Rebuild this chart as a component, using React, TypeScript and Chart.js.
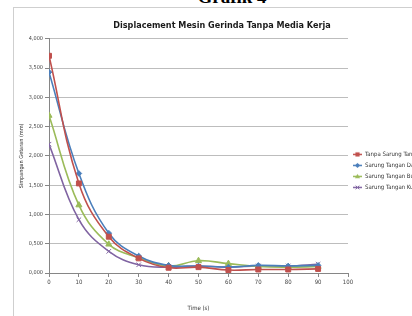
import React, { useEffect, useRef } from "react";
import { Chart, registerables } from "chart.js";
Chart.register(...registerables);

const timeS = [0, 10, 20, 30, 40, 50, 60, 70, 80, 90];
const tanpaSarung = [3.71, 1.53, 0.62, 0.25, 0.09, 0.1, 0.05, 0.06, 0.06, 0.07];
const sarungDacron = [3.43, 1.7, 0.68, 0.29, 0.13, 0.12, 0.1, 0.13, 0.12, 0.13];
const sarungBusa = [2.69, 1.16, 0.49, 0.26, 0.12, 0.21, 0.16, 0.11, 0.1, 0.11];
const sarungKulit = [2.2, 0.91, 0.37, 0.14, 0.1, 0.12, 0.1, 0.12, 0.12, 0.15];
const seriesNames = ["Tanpa Sarung Tangan", "Sarung Tangan Dacron", "Sarung Tangan Busa", "Sarung Tangan Kulit"];
const seriesValues = [tanpaSarung, sarungDacron, sarungBusa, sarungKulit];
const seriesColors = ["#C0504D", "#4A7EBB", "#9BBB59", "#8064A2"];
const seriesMarkers = ["rect", "rectRot", "triangle", "crossRot"];
const markerRadius = [3.5, 2.8, 3.5, 3.2];

const chartTitle = "Displacement Mesin Gerinda Tanpa Media Kerja";
const xTitle = "Time (s)";
const yTitle = "Simpangan Getaran (mm)";

const FONT = '"Liberation Sans Narrow", "DejaVu Sans Condensed", "Liberation Sans", sans-serif';

function drawMarker(ctx: CanvasRenderingContext2D, style: string, x: number, y: number, r: number, color: string) {
  ctx.fillStyle = color;
  ctx.strokeStyle = color;
  ctx.lineWidth = 1;
  ctx.beginPath();
  if (style === "rect") {
    ctx.rect(x - r * 0.8, y - r * 0.8, r * 1.6, r * 1.6);
    ctx.fill();
  } else if (style === "rectRot") {
    ctx.moveTo(x, y - r);
    ctx.lineTo(x + r, y);
    ctx.lineTo(x, y + r);
    ctx.lineTo(x - r, y);
    ctx.closePath();
    ctx.fill();
  } else if (style === "triangle") {
    ctx.moveTo(x, y - r);
    ctx.lineTo(x + r, y + r * 0.7);
    ctx.lineTo(x - r, y + r * 0.7);
    ctx.closePath();
    ctx.fill();
  } else {
    ctx.moveTo(x - r * 0.7, y - r * 0.7);
    ctx.lineTo(x + r * 0.7, y + r * 0.7);
    ctx.moveTo(x + r * 0.7, y - r * 0.7);
    ctx.lineTo(x - r * 0.7, y + r * 0.7);
    ctx.stroke();
  }
}

function legendImage(i: number) {
  const c = document.createElement("canvas");
  c.width = 9;
  c.height = 7;
  const ctx = c.getContext("2d")!;
  ctx.strokeStyle = seriesColors[i];
  ctx.lineWidth = 1.5;
  ctx.beginPath();
  ctx.moveTo(0, 3.5);
  ctx.lineTo(9, 3.5);
  ctx.stroke();
  drawMarker(ctx, seriesMarkers[i], 4.5, 3.5, 2.6, seriesColors[i]);
  return c;
}

const W = 430;

export default function App() {
  const ref = useRef<HTMLCanvasElement>(null);
  useEffect(() => {
    if (!ref.current) return;
    const chart = new Chart(ref.current, {
      type: "line",
      data: {
        datasets: seriesValues.map((vals, i) => ({
          label: seriesNames[i],
          data: timeS.map((t, j) => ({ x: t, y: vals[j] })),
          borderColor: seriesColors[i],
          backgroundColor: seriesColors[i],
          borderWidth: 1.6,
          pointStyle: seriesMarkers[i] as any,
          pointRadius: markerRadius[i],
          pointBorderWidth: 1,
          tension: 0.4,
          fill: false,
        })),
      },
      options: {
        animation: false,
        responsive: false,
        maintainAspectRatio: false,
        layout: { padding: { left: 14, top: 7, right: 0, bottom: 0 } },
        plugins: {
          title: {
            display: true,
            text: chartTitle,
            color: "#1a1a1a",
            font: { family: FONT, size: 9, weight: "bold", lineHeight: 1.2 },
            padding: { top: 13, bottom: 8 },
          },
          legend: {
            position: "right",
            align: "center",
            fullSize: false,
            maxWidth: W - 348,
            title: { display: true, text: " ", padding: 0, font: { size: 25, lineHeight: 1.2 } },
            labels: {
              usePointStyle: true,
              pointStyleWidth: 9,
              padding: 5,
              color: "#333",
              font: { family: FONT, size: 6 },
              generateLabels: (ch: any) => {
                const base = Chart.defaults.plugins.legend.labels.generateLabels(ch);
                return base.map((it: any, i: number) => ({ ...it, pointStyle: legendImage(i) }));
              },
            },
          },
          tooltip: { enabled: false },
        },
        scales: {
          x: {
            type: "linear",
            min: 0,
            max: 100,
            ticks: { stepSize: 10, color: "#444", font: { family: FONT, size: 6 }, padding: 2, maxRotation: 0 },
            grid: { drawOnChartArea: false, drawTicks: true, tickLength: 4, color: "#868686" },
            border: { color: "#868686" },
            title: { display: true, text: xTitle, color: "#333", font: { family: FONT, size: 6 }, padding: { top: 0, bottom: 4 } },
            afterFit: (s: any) => { s.height = 43; },
          },
          y: {
            type: "linear",
            min: 0,
            max: 4,
            ticks: {
              stepSize: 0.5,
              color: "#444",
              font: { family: FONT, size: 5.5 },
              padding: 2,
              callback: (v: any) => Number(v).toFixed(3).replace(".", ","),
            },
            grid: { color: "#bdbdbd", tickLength: 4, tickColor: "#868686" },
            border: { color: "#868686" },
            title: { display: true, text: yTitle, color: "#333", font: { family: FONT, size: 5.5 }, padding: { top: 4, bottom: 0 } },
            afterFit: (s: any) => { s.width = 35; },
          },
        },
      },
    });
    return () => chart.destroy();
  }, []);

  return (
    <div style={{ position: "fixed", left: 0, top: 0, width: 412, height: 316, overflow: "hidden", background: "#fff" }}>
      <div
        style={{
          position: "absolute",
          left: 0,
          width: 464,
          top: -13,
          textAlign: "center",
          font: 'bold 19px "Liberation Serif", serif',
          lineHeight: "19px",
          color: "#000",
        }}
      >
        Grafik 4
      </div>
      <div style={{ position: "absolute", left: 13, top: 7, width: 440, height: 340, border: "1px solid #cfcfcf" }} />
      <canvas ref={ref} width={W} height={316} style={{ position: "absolute", left: 0, top: 0, width: W, height: 316 }} />
    </div>
  );
}
